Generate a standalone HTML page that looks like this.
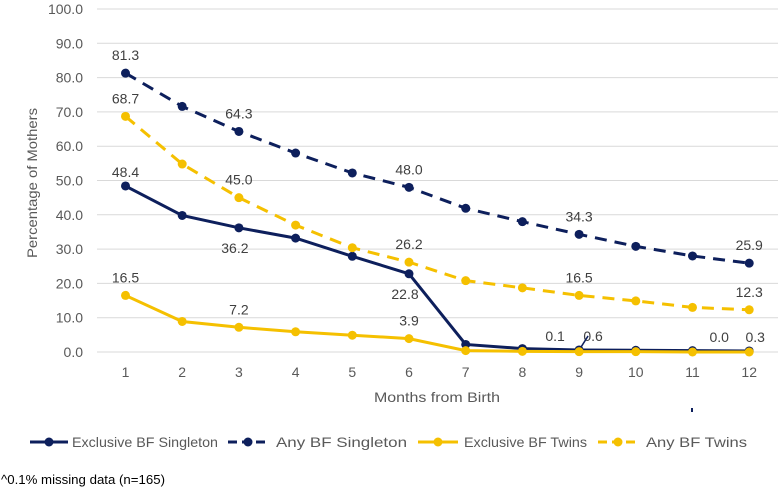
<!DOCTYPE html>
<html><head><meta charset="utf-8"><style>
body{margin:0;background:#fff;}
svg{display:block;font-family:"Liberation Sans",sans-serif;}
</style></head><body>
<svg width="780" height="492" viewBox="0 0 780 492">
<g id="grid"></g><g id="series"></g><g id="labels"></g>
<text x="37" y="183" transform="rotate(-90 37 183)" text-anchor="middle" font-size="14" fill="#595959" textLength="150" lengthAdjust="spacingAndGlyphs">Percentage of Mothers</text>
<text x="437" y="402" text-anchor="middle" font-size="14" fill="#595959" textLength="126" lengthAdjust="spacingAndGlyphs">Months from Birth</text>
<rect x="691" y="408" width="2" height="4" fill="#0d1f5c"/>
<g id="legend"></g>
<text x="1" y="484" font-size="13" fill="#000" textLength="164" lengthAdjust="spacingAndGlyphs">^0.1% missing data (n=165)</text>
</svg>
<script>
const months=[1,2,3,4,5,6,7,8,9,10,11,12];
const yTicks=[0,10,20,30,40,50,60,70,80,90,100];
const exclSingleton=[48.4,39.8,36.2,33.2,27.9,22.8,2.2,1.0,0.6,0.5,0.4,0.3];
const anySingleton=[81.3,71.6,64.3,58.0,52.2,48.0,41.9,38.0,34.3,30.8,28.0,25.9];
const exclTwins=[16.5,8.9,7.2,5.9,4.9,3.9,0.4,0.2,0.1,0.1,0.0,0.0];
const anyTwins=[68.7,54.8,45.0,37.0,30.4,26.2,20.8,18.7,16.5,14.9,13.0,12.3];
const seriesNames=["Exclusive BF Singleton","Any BF Singleton","Exclusive BF Twins","Any BF Twins"];
const NS="http://www.w3.org/2000/svg";
const X=m=>125.5+(m-1)*56.7;
const Y=v=>352-v*3.43;
function mk(tag,attrs,parent){const e=document.createElementNS(NS,tag);for(const k in attrs)e.setAttribute(k,attrs[k]);parent.appendChild(e);return e;}
const grid=document.getElementById('grid');
yTicks.forEach(t=>{
  const l=mk('line',{x1:97,x2:778,y1:Y(t),y2:Y(t),stroke:'#d9d9d9','stroke-width':1},grid);
  
  
  const tx=mk('text',{x:83,y:Y(t)+5,'text-anchor':'end','font-size':14,fill:'#595959'},grid);
  tx.textContent=t.toFixed(1);
  
  
});
months.forEach(m=>{
  const tx=mk('text',{x:X(m),y:377,'text-anchor':'middle','font-size':14,fill:'#595959'},grid);
  tx.textContent=m;
  
  
});
const navy='#0d1f5c',gold='#f5c000';
const defs=[[exclSingleton,navy,'',3],[anySingleton,navy,'12 8',3],[exclTwins,gold,'',3],[anyTwins,gold,'12 8',3]];
const sg=document.getElementById('series');
defs.forEach((d,i)=>{
  const g=mk('g',{},sg);
  
  
  const pts=d[0].map((v,j)=>X(months[j])+','+Y(v)).join(' ');
  const p=mk('polyline',{points:pts,fill:'none',stroke:d[1],'stroke-width':d[3],'stroke-dasharray':d[2]},g);
  
  
  d[0].forEach((v,j)=>{
    const c=mk('circle',{cx:X(months[j]),cy:Y(v),r:4.5,fill:d[1]},g);
    
    
  });
});
const labelSpecs=[[0,0,-14,0],[0,2,20,-4],[0,5,20,-4],[0,8,-14,-24],[0,8,-14,14],[0,11,-14,-30],[0,11,-14,6],
[1,0,-18,0],[1,2,-18,0],[1,5,-18,0],[1,8,-18,0],[1,11,-18,0],
[2,0,-18,0],[2,2,-18,0],[2,5,-18,0],
[3,0,-18,0],[3,2,-18,0],[3,5,-18,0],[3,8,-18,0],[3,11,-18,0]];
const labelText=["48.4","36.2","22.8","0.1","0.6","0.0","0.3","81.3","64.3","48.0","34.3","25.9","16.5","7.2","3.9","68.7","45.0","26.2","16.5","12.3"];
const arrs=[exclSingleton,anySingleton,exclTwins,anyTwins];
const lg=document.getElementById('labels');
labelSpecs.forEach((s,k)=>{
  const t=mk('text',{x:X(months[s[1]])+s[3],y:Y(arrs[s[0]][s[1]])+s[2]+5,'text-anchor':'middle','font-size':14,fill:'#404040'},lg);
  t.textContent=labelText[k];
  
  
});
mk('line',{x1:X(9)+2,y1:Y(0.6)-3,x2:X(9)+9,y2:Y(0.6)-14,stroke:navy,'stroke-width':1.5},lg);
const leg=document.getElementById('legend');
const legLine=[[30,68,''],[228,268,'9 5'],[418,458,''],[598,638,'9 5']];
const legTextX=[72,276,464,646];
const legTextW=[146,131,123,101];
legLine.forEach((p,i)=>{
  const col=i<2?navy:gold;
  const g=mk('g',{},leg);
  
  
  mk('line',{x1:p[0],x2:p[1],y1:442,y2:442,stroke:col,'stroke-width':3,'stroke-dasharray':p[2]},g);
  mk('circle',{cx:(p[0]+p[1])/2,cy:442,r:4.5,fill:col},g);
  const t=mk('text',{x:legTextX[i],y:447,'font-size':14,fill:'#595959',textLength:legTextW[i],lengthAdjust:'spacingAndGlyphs'},g);
  t.textContent=seriesNames[i];
});
</script>
</body></html>
